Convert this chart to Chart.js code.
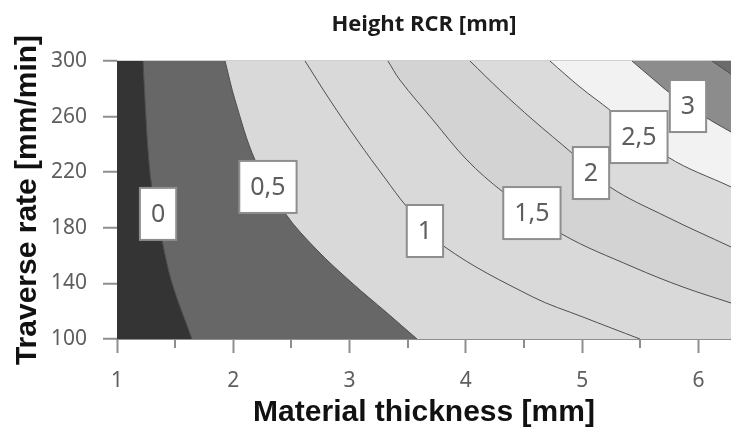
<!DOCTYPE html>
<html>
<head>
<meta charset="utf-8">
<title>Height RCR [mm]</title>
<script src="https://cdn.jsdelivr.net/npm/chart.js@4.4.1/dist/chart.umd.min.js"></script>
<style>
  html, body { margin: 0; padding: 0; background: #fff; }
  #wrap { width: 731px; height: 435px; }
</style>
</head>
<body>
<div id="wrap"><canvas id="chart"></canvas></div>
<script>
// axis ranges and ticks
const X_MIN = 1, X_MAX = 6.28;
const Y_MIN = 100, Y_MAX = 300;
const X_TICKS = [1, 2, 3, 4, 5, 6];
const X_MINOR = [1.5, 2.5, 3.5, 4.5, 5.5];
const Y_TICKS = [100, 140, 180, 220, 260, 300];

// contour levels of RCR height and their curves as [thickness, traverse rate]
const LEVELS = [0, 0.5, 1, 1.5, 2, 2.5, 3, 3.5];
const C_0   = [[1.224, 300], [1.241, 271.9], [1.267, 236], [1.301, 208.6], [1.387, 171.2], [1.473, 140.3], [1.645, 100]];
const C_0_5 = [[1.929, 300], [2.015, 271.9], [2.187, 228.8], [2.445, 190.6], [2.720, 164.0], [3.021, 140.3], [3.313, 119.4], [3.580, 100]];
const C_1   = [[2.617, 300], [2.831, 271.9], [3.072, 242.4], [3.304, 215.8], [3.494, 195.0], [3.820, 166.2], [4.577, 130.2], [5.007, 115.8], [5.497, 100]];
const C_1_5 = [[3.330, 300], [3.433, 286.3], [3.717, 257.6], [4.009, 228.8], [4.319, 205.8], [4.826, 175.5], [5.437, 151.8], [5.867, 137.4], [6.28, 125.9]];
const C_2   = [[4.035, 300], [4.293, 279.1], [4.577, 257.6], [4.912, 233.8], [5.239, 209.4], [5.729, 187.8], [6.28, 166.2]];
const C_2_5 = [[4.723, 300], [4.981, 281.3], [5.239, 264.7], [5.738, 230.9], [6.28, 209.4]];
const C_3   = [[5.428, 300], [5.609, 287.1], [5.755, 277.0], [6.073, 259.0], [6.28, 248.9]];
const C_3_5 = [[6.116, 300], [6.28, 290.6]];
const CONTOURS = [C_0, C_0_5, C_1, C_1_5, C_2, C_2_5, C_3, C_3_5];

// level labels and where they sit on the curves
const LABEL_TEXT = ['0', '0,5', '1', '1,5', '2', '2,5', '3'];
const LABEL_X = [1.353, 2.298, 3.648, 4.568, 5.076, 5.488, 5.910];
const LABEL_Y = [190.0, 209.4, 177.7, 190.6, 219.4, 245.3, 267.6];

// band colours, lowest band first
const BAND_COLORS = ['#343434', '#676767', '#d9d9d9', '#d9d9d9', '#d3d3d3', '#dbdbdb', '#f2f2f2', '#8c8c8c', '#6b6b6b'];
const LINE_COLOR = '#4f4f4f';
const AXIS_GRAY = '#8e8e8e';
const TEXT_GRAY = '#5e5e5e';

const toXY = p => ({ x: p[0], y: p[1] });

const datasets = [];
// whole plot starts as the lowest band
datasets.push({
  data: [{ x: X_MIN, y: Y_MIN }, { x: X_MAX, y: Y_MIN }],
  backgroundColor: BAND_COLORS[0],
  fill: 'end',
  borderWidth: 0,
  tension: 0
});

CONTOURS.forEach((pts, i) => {
  const data = pts.map(toXY);
  const n = data.length;
  const last = pts[n - 1], prev = pts[n - 2];
  if (last[0] < X_MAX) {
    // curve meets the bottom axis: carry it on below the plot, then across,
    // so the band above it is filled out to the right edge
    const ext = { x: 2 * last[0] - prev[0], y: 2 * last[1] - prev[1] };
    data.push(ext, { x: X_MAX, y: ext.y });
  }
  datasets.push({
    label: String(LEVELS[i]),
    data: data,
    backgroundColor: BAND_COLORS[i + 1],
    fill: 'end',
    borderColor: LINE_COLOR,
    borderWidth: 1,
    tension: 0.35,
    segment: {
      borderColor: ctx => ctx.p0DataIndex >= n - 1 ? 'rgba(0,0,0,0)' : LINE_COLOR
    }
  });
});

datasets.forEach((d, i) => {
  d.order = -i;
  d.showLine = true;
  d.pointRadius = 0;
  d.pointHoverRadius = 0;
});

// white boxes with the level value on each curve
const contourLabels = {
  id: 'contourLabels',
  afterDatasetsDraw(chart) {
    const { ctx, scales } = chart;
    ctx.save();
    ctx.font = '25px "Noto Sans", "DejaVu Sans", sans-serif';
    ctx.textAlign = 'center';
    ctx.textBaseline = 'middle';
    LABEL_TEXT.forEach((t, i) => {
      const px = scales.x.getPixelForValue(LABEL_X[i]);
      const py = scales.y.getPixelForValue(LABEL_Y[i]);
      const w = ctx.measureText(t).width + 22;
      const h = 52;
      ctx.fillStyle = '#ffffff';
      ctx.fillRect(px - w / 2, py - h / 2, w, h);
      ctx.strokeStyle = AXIS_GRAY;
      ctx.lineWidth = 2;
      ctx.strokeRect(px - w / 2, py - h / 2, w, h);
      ctx.fillStyle = TEXT_GRAY;
      ctx.fillText(t, px, py + 1);
    });
    ctx.restore();
  }
};

// short half-unit ticks under the x axis
const minorTicks = {
  id: 'minorTicks',
  afterDraw(chart) {
    const { ctx, scales, chartArea } = chart;
    ctx.save();
    ctx.strokeStyle = AXIS_GRAY;
    ctx.lineWidth = 2;
    X_MINOR.forEach(v => {
      const px = Math.round(scales.x.getPixelForValue(v));
      ctx.beginPath();
      ctx.moveTo(px, chartArea.bottom);
      ctx.lineTo(px, chartArea.bottom + 9);
      ctx.stroke();
    });
    ctx.restore();
  }
};

new Chart(document.getElementById('chart'), {
  type: 'scatter',
  data: { datasets: datasets },
  plugins: [contourLabels, minorTicks],
  options: {
    responsive: true,
    maintainAspectRatio: false,
    animation: false,
    layout: { padding: 0 },
    plugins: {
      legend: { display: false },
      tooltip: { enabled: false },
      title: {
        display: true,
        text: 'Height RCR [mm]',
        fullSize: false,
        color: '#1a1a1a',
        font: { family: '"Open Sans", "DejaVu Sans", sans-serif', size: 22, weight: 'bold' },
        padding: { top: 12, bottom: 22.6 }
      }
    },
    scales: {
      x: {
        type: 'linear',
        min: X_MIN,
        max: X_MAX,
        z: 1,
        afterBuildTicks: s => { s.ticks = X_TICKS.map(v => ({ value: v })); },
        afterFit: s => { s.height = 96; },
        ticks: {
          autoSkip: false,
          maxRotation: 0,
          padding: 15,
          color: TEXT_GRAY,
          font: { family: '"Noto Sans", "DejaVu Sans", sans-serif', size: 21 }
        },
        grid: {
          drawOnChartArea: false,
          tickLength: 14,
          tickWidth: 2,
          tickColor: AXIS_GRAY
        },
        border: { display: true, color: AXIS_GRAY, width: 2 },
        title: {
          display: true,
          text: 'Material thickness [mm]',
          color: '#111',
          font: { family: '"Liberation Sans", Arial, sans-serif', size: 30, weight: 'bold' },
          padding: { top: 0, bottom: 4 }
        }
      },
      y: {
        type: 'linear',
        min: Y_MIN,
        max: Y_MAX,
        z: 1,
        afterBuildTicks: s => { s.ticks = Y_TICKS.map(v => ({ value: v })); },
        afterFit: s => { s.width = 117; },
        ticks: {
          autoSkip: false,
          padding: 16,
          color: TEXT_GRAY,
          font: { family: '"Noto Sans", "DejaVu Sans", sans-serif', size: 21 }
        },
        grid: {
          drawOnChartArea: true,
          color: ctx => (ctx.tick && ctx.tick.value === Y_MAX) ? '#d0d0d0' : 'rgba(0,0,0,0)',
          lineWidth: 1.5,
          tickLength: 14,
          tickWidth: 2,
          tickColor: AXIS_GRAY
        },
        border: { display: false },
        title: {
          display: true,
          text: 'Traverse rate [mm/min]',
          color: '#111',
          font: { family: '"Liberation Sans", Arial, sans-serif', size: 30, weight: 'bold' },
          padding: { top: 10, bottom: 0 }
        }
      }
    }
  }
});
</script>
</body>
</html>
